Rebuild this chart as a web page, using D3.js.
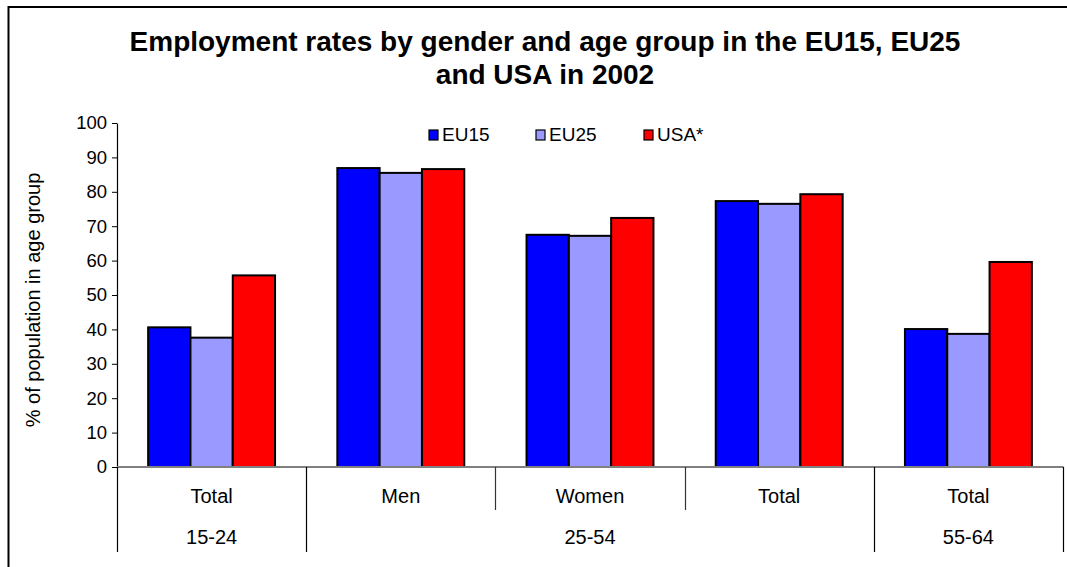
<!DOCTYPE html>
<html>
<head>
<meta charset="utf-8">
<script src="https://cdn.jsdelivr.net/npm/d3@7"></script>
<style>
  html, body { margin: 0; padding: 0; background: #fff; }
  svg { display: block; font-family: Arial, "Liberation Sans", sans-serif; }
</style>
</head>
<body>
<svg id="chart" width="1067" height="567"></svg>
<script>
// Employment rates (% of population in age group), 2002
const categories = ["Total", "Men", "Women", "Total", "Total"];
const ageGroupOf = ["15-24", "25-54", "25-54", "25-54", "55-64"];
const seriesNames = ["EU15", "EU25", "USA*"];
const seriesColors = ["#0000FF", "#9999FF", "#FF0000"];
const eu15 = [40.6, 86.9, 67.5, 77.3, 40.1];
const eu25 = [37.6, 85.5, 67.2, 76.5, 38.7];
const usa  = [55.7, 86.6, 72.4, 79.3, 59.6];
const yTicks = [0, 10, 20, 30, 40, 50, 60, 70, 80, 90, 100];
const titleLines = ["Employment rates by gender and age group in the EU15, EU25", "and USA in 2002"];
const yTitle = "% of population in age group";

const seriesValues = [eu15, eu25, usa];

const svg = d3.select("#chart");
const W = 1067, H = 567;
const plot = { left: 117, right: 1063, top: 123, bottom: 467 };

svg.append("rect").attr("width", W).attr("height", H).attr("fill", "#fff");

// outer frame (runs off the right and bottom edges)
svg.append("path")
  .attr("d", `M8.5,${H + 5} V7 H${W + 5}`)
  .attr("fill", "none").attr("stroke", "#000").attr("stroke-width", 2);

// title
svg.append("g").selectAll("text").data(titleLines).join("text")
  .attr("x", 545).attr("y", (d, i) => 51 + i * 33)
  .attr("text-anchor", "middle")
  .attr("font-weight", "bold").attr("font-size", 28)
  .attr("fill", "#000")
  .text(d => d);

// scales
const idx = d3.range(categories.length);
const x0 = d3.scaleBand().domain(idx).range([plot.left, plot.right]).padding(0);
const x1 = d3.scaleBand().domain(d3.range(seriesNames.length))
  .range([0, x0.bandwidth()]).paddingInner(0).paddingOuter(0.736);
const y = d3.scaleLinear().domain([0, 100]).range([plot.bottom, plot.top]);

// y axis
const yAxis = d3.axisLeft(y).tickValues(yTicks).tickSize(5).tickPadding(5).tickSizeOuter(0);
const gy = svg.append("g").attr("transform", `translate(${plot.left},0)`).call(yAxis);
gy.select(".domain").attr("stroke", "#000").attr("stroke-width", 1.2);
gy.selectAll(".tick line").attr("stroke", "#000");
gy.selectAll(".tick text").attr("font-size", 18.5).attr("fill", "#000")
  .attr("font-family", "Arial, 'Liberation Sans', sans-serif");

// y axis title
svg.append("text")
  .attr("transform", `translate(40,300) rotate(-90)`)
  .attr("text-anchor", "middle").attr("font-size", 20).attr("fill", "#000")
  .text(yTitle);

// bars
const barData = [];
idx.forEach(c => seriesValues.forEach((vals, s) => barData.push({ c, s, v: vals[c] })));
svg.append("g").selectAll("rect").data(barData).join("rect")
  .attr("x", d => x0(d.c) + x1(d.s))
  .attr("y", d => y(d.v))
  .attr("width", x1.bandwidth())
  .attr("height", d => y(0) - y(d.v))
  .attr("fill", d => seriesColors[d.s])
  .attr("stroke", "#000").attr("stroke-width", 2);

// category axis baseline
svg.append("line")
  .attr("x1", plot.left).attr("x2", plot.right + 0.5)
  .attr("y1", y(0)).attr("y2", y(0))
  .attr("stroke", "#808080").attr("stroke-width", 2);

// category labels (first level)
svg.append("g").selectAll("text").data(idx).join("text")
  .attr("x", c => x0(c) + x0.bandwidth() / 2)
  .attr("y", 503)
  .attr("text-anchor", "middle").attr("font-size", 20).attr("fill", "#000")
  .text(c => categories[c]);

// age groups (second level)
const groups = [];
ageGroupOf.forEach((g, i) => {
  const last = groups[groups.length - 1];
  if (last && last.label === g) last.end = i; else groups.push({ label: g, start: i, end: i });
});
svg.append("g").selectAll("text").data(groups).join("text")
  .attr("x", g => (x0(g.start) + x0(g.end) + x0.bandwidth()) / 2)
  .attr("y", 544)
  .attr("text-anchor", "middle").attr("font-size", 20).attr("fill", "#000")
  .text(g => g.label);

// separators: long ones bound age groups, short ones split categories inside a group
const bounds = [];
for (let i = 0; i <= categories.length; i++) {
  const isGroupEdge = i === 0 || i === categories.length || ageGroupOf[i] !== ageGroupOf[i - 1];
  const xPos = i === categories.length ? plot.right : x0(i);
  bounds.push({ x: xPos, long: isGroupEdge });
}
svg.append("g").selectAll("line").data(bounds).join("line")
  .attr("x1", d => Math.round(d.x) + 0.5).attr("x2", d => Math.round(d.x) + 0.5)
  .attr("y1", y(0)).attr("y2", d => d.long ? 552 : 510)
  .attr("stroke", d => d.long ? "#000" : "#333").attr("stroke-width", 1.2);

// legend
const legendX = [429, 536, 644];
const lg = svg.append("g").selectAll("g").data(seriesNames).join("g")
  .attr("transform", (d, i) => `translate(${legendX[i]},130)`);
lg.append("rect").attr("width", 9).attr("height", 10)
  .attr("fill", (d, i) => seriesColors[i]).attr("stroke", "#000").attr("stroke-width", 1.2);
lg.append("text").attr("x", 13).attr("y", 11)
  .attr("font-size", 19).attr("fill", "#000").text(d => d);
</script>
</body>
</html>
